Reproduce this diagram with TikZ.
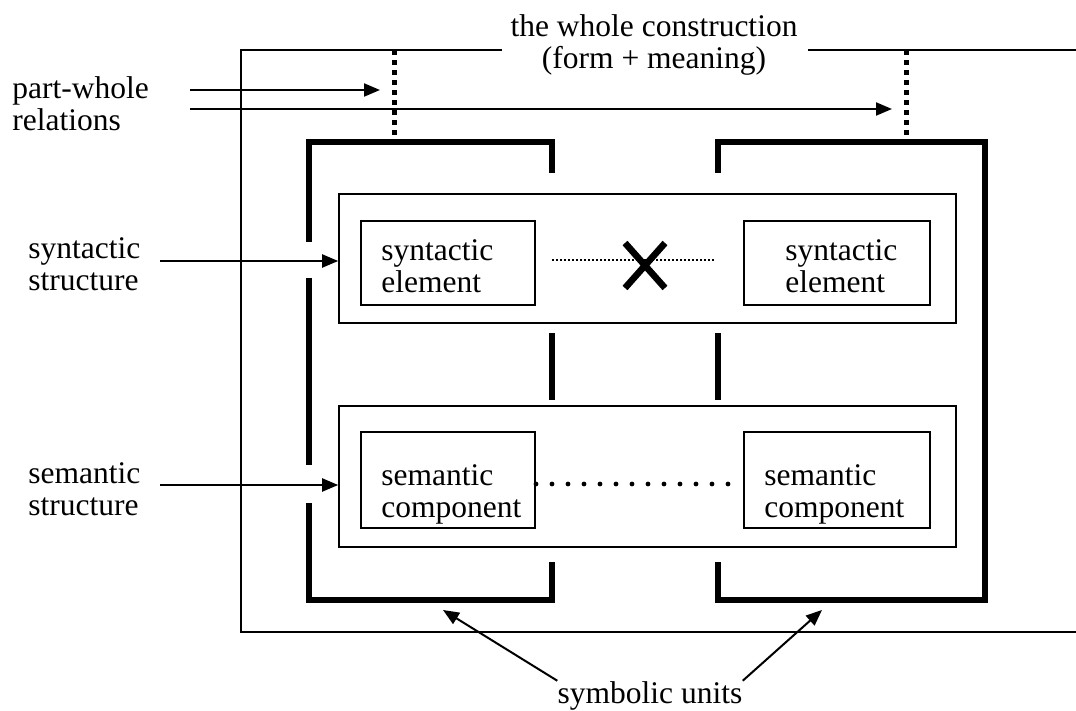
\documentclass[tikz,border=0pt]{standalone}
\usepackage{fontspec}
\setmainfont{Liberation Serif}
\usetikzlibrary{arrows.meta, positioning, calc}

\begin{document}
\begin{tikzpicture}[x=0.5pt, y=-0.5pt,
    txt/.style={inner sep=0pt, font=\fontsize{15.75pt}{16pt}\selectfont, align=left},
    thinbox/.style={draw, line width=0.8pt, inner sep=0pt, minimum width=308.5pt},
    elembox/.style={draw, line width=1pt, inner sep=0pt},
    unitline/.style={line width=2.8pt},
    pwdots/.style={line width=2.5pt, dash pattern=on 2.5pt off 2.5pt},
    arr/.style={line width=1pt, -{Triangle[length=8pt,width=6.5pt]}}]

    \useasboundingbox (0,0) rectangle (1076,711);

    % The whole construction
    \draw[line width=1pt] (502,50) -- (241,50) -- (241,632) -- (1076,632);
    \draw[line width=1pt] (808,50) -- (1076,50);
    \node[txt, align=center] (whole) at (654,45) {the whole construction\\(form + meaning)};

    % Structures
    \node[thinbox, minimum height=64.5pt] (synS) at (647.5,258.5) {};
    \node[thinbox, minimum height=70.5pt] (semS) at (647.5,476.5) {};

    % Elements and components
    \node[elembox, minimum width=87pt, minimum height=42pt] (synL) at (448,263) {};
    \node[elembox, minimum width=93pt, minimum height=42pt] (synR) at (837,263) {};
    \node[elembox, minimum width=87pt, minimum height=48pt] (semL) at (448,480) {};
    \node[elembox, minimum width=93pt, minimum height=48pt] (semR) at (837,480) {};
    \node[txt, anchor=west] (synLt) at (381,266) {syntactic\\element};
    \node[txt, anchor=west] (synRt) at (785,266) {syntactic\\element};
    \node[txt, anchor=west] (semLt) at (381,494) {semantic\\component};
    \node[txt, anchor=west] (semRt) at (764,494) {semantic\\component};

    % Links between them
    \draw[line width=0.8pt, dash pattern=on 1pt off 1pt] ($(synL.east)+(16,-3)$) -- ($(synR.west)+(-27,-3)$);
    \coordinate (cross) at (645,265.5);
    \draw[line width=3.3pt] (cross) +(-20,-22.5) -- +(20,22.5) +(20,-22.5) -- +(-20,22.5);
    \draw[line width=2.4pt, dash pattern=on 0pt off 8pt, line cap=round] ($(semL.east)+(0,4)$) -- ($(semR.west)+(0,4)$);

    % Symbolic units
    \draw[unitline] (552,173) -- (552,142) -- (309,142) -- (309,242);
    \draw[unitline] (309,278) -- (309,465);
    \draw[unitline] (309,503) -- (309,600) -- (552,600) -- (552,562);
    \draw[unitline] (718,173) -- (718,142) -- (985,142) -- (985,600) -- (718,600) -- (718,562);
    \foreach \x in {552,718} {
        \draw[unitline] (\x,333) -- (\x,400);
    }

    % Part-whole relations
    \coordinate (dotL) at (394,50);
    \coordinate (dotR) at (906,50);
    \foreach \d in {dotL,dotR} {
        \draw[pwdots] (\d) -- ++(0,92);
    }
    \node[txt, anchor=west] (pw) at (12,104) {part-whole\\relations};
    \coordinate (pw1) at (190,90);
    \coordinate (pw2) at (190,109);
    \draw[arr] (pw1) -- ($(pw1 -| dotL)+(-14,0)$);
    \draw[arr] (pw2) -- ($(pw2 -| dotR)+(-14,0)$);

    % Labels on the left
    \node[txt, anchor=west] (synlab) at (28,264) {syntactic\\structure};
    \node[txt, anchor=west] (semlab) at (28,489) {semantic\\structure};
    \coordinate (synarr) at (160,261);
    \coordinate (semarr) at (160,485);
    \draw[arr] (synarr) -- (synarr -| synS.west);
    \draw[arr] (semarr) -- (semarr -| semS.west);

    % Label at the bottom
    \node[txt, anchor=base] (symb) at (650,703) {symbolic units};
    \coordinate (suL) at (443,610);
    \coordinate (suR) at (822,610);
    \draw[arr] (symb.north west) -- (suL);
    \draw[arr] (symb.north east) -- (suR);
\end{tikzpicture}
\end{document}
